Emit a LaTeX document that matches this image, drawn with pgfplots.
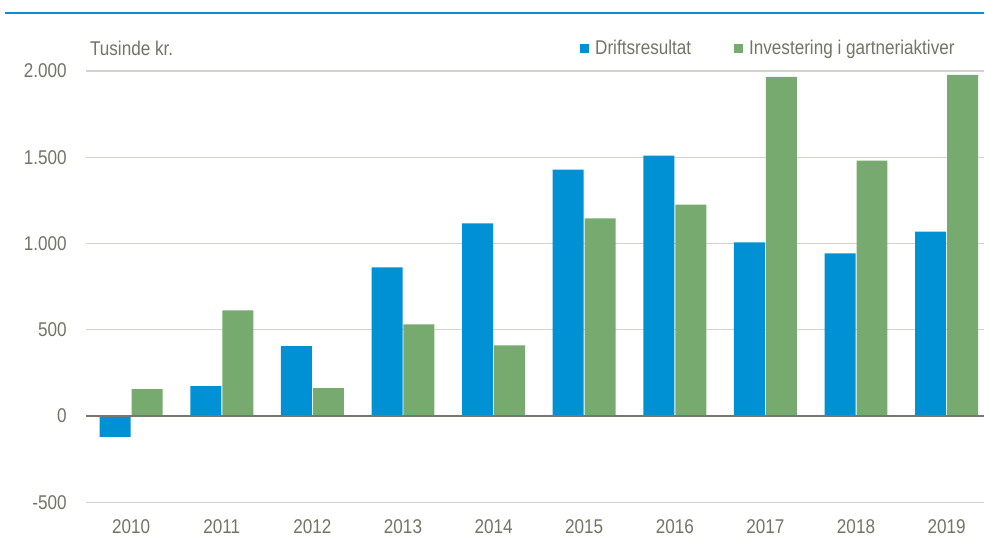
\documentclass[border=0pt]{standalone}
\usepackage{fontspec}
\setmainfont{Liberation Sans}[FakeStretch=0.86]
\usepackage{pgfplots}
\pgfplotsset{compat=1.18}

\definecolor{drift}{HTML}{0091D4}
\definecolor{invest}{HTML}{77AA6E}
\definecolor{txt}{HTML}{737366}
\definecolor{gridc}{HTML}{D3D3CB}
\definecolor{zeroc}{HTML}{77776B}

\begin{document}
\begin{tikzpicture}
\begin{axis}[
    scale only axis,
    width=899bp, height=432bp,
    xmin=-0.5, xmax=9.41,
    ymin=-500, ymax=2000,
    clip=false,
    ybar=1bp, bar width=31bp,
    axis line style={draw=none},
    major tick length=0pt,
    xtick={0,...,9},
    xticklabels={2010,2011,2012,2013,2014,2015,2016,2017,2018,2019},
    ytick={-500,0,500,1000,1500,2000},
    yticklabels={-500,0,500,1.000,1.500,2.000},
    ymajorgrids,
    grid style={gridc, line width=1.2bp},
    tick label style={font=\fontsize{20}{24}\selectfont, text=txt, inner sep=0pt},
    yticklabel style={anchor=east, xshift=-19bp},
    xticklabel style={anchor=north, yshift=-17bp},
    legend style={at={(rel axis cs:0.5503,1.053)}, anchor=west,
        draw=none, fill=none, inner sep=0pt,
        font=\fontsize{20}{24}\selectfont, text=txt,
        /tikz/every even column/.append style={column sep=41bp}},
    legend columns=2,
    legend image code/.code={\fill[#1] (0bp,-4.5bp) rectangle (9bp,4.5bp); \path (13bp,0bp);},
]

% Driftsresultat
\addplot[fill=drift, draw=none] coordinates {
    (0,-120) (1,173) (2,405) (3,861) (4,1116)
    (5,1428) (6,1509) (7,1006) (8,942) (9,1069)
};
\addlegendentry{Driftsresultat}

% Investering i gartneriaktiver
\addplot[fill=invest, draw=none] coordinates {
    (0,156) (1,613) (2,162) (3,532) (4,410)
    (5,1145) (6,1225) (7,1966) (8,1480) (9,1977)
};
\addlegendentry{Investering i gartneriaktiver}

\draw[zeroc, line width=1.6bp] (rel axis cs:0,0.2) -- (rel axis cs:1,0.2);
\node[anchor=west, inner sep=0pt, text=txt, font=\fontsize{20}{24}\selectfont]
    at ([xshift=4bp, yshift=23bp]rel axis cs:0,1) {Tusinde kr.};
\coordinate (tl) at (rel axis cs:0,1);
\coordinate (bl) at (rel axis cs:0,0);
\coordinate (tr) at (rel axis cs:1,1);
\end{axis}
\draw[drift, line width=2.5bp] ([shift={(-81bp,58bp)}]tl) -- ([shift={(0bp,58bp)}]tr);
\useasboundingbox ([shift={(-86bp,-40bp)}]bl) rectangle ([shift={(0bp,71bp)}]tr);
\end{tikzpicture}
\end{document}
